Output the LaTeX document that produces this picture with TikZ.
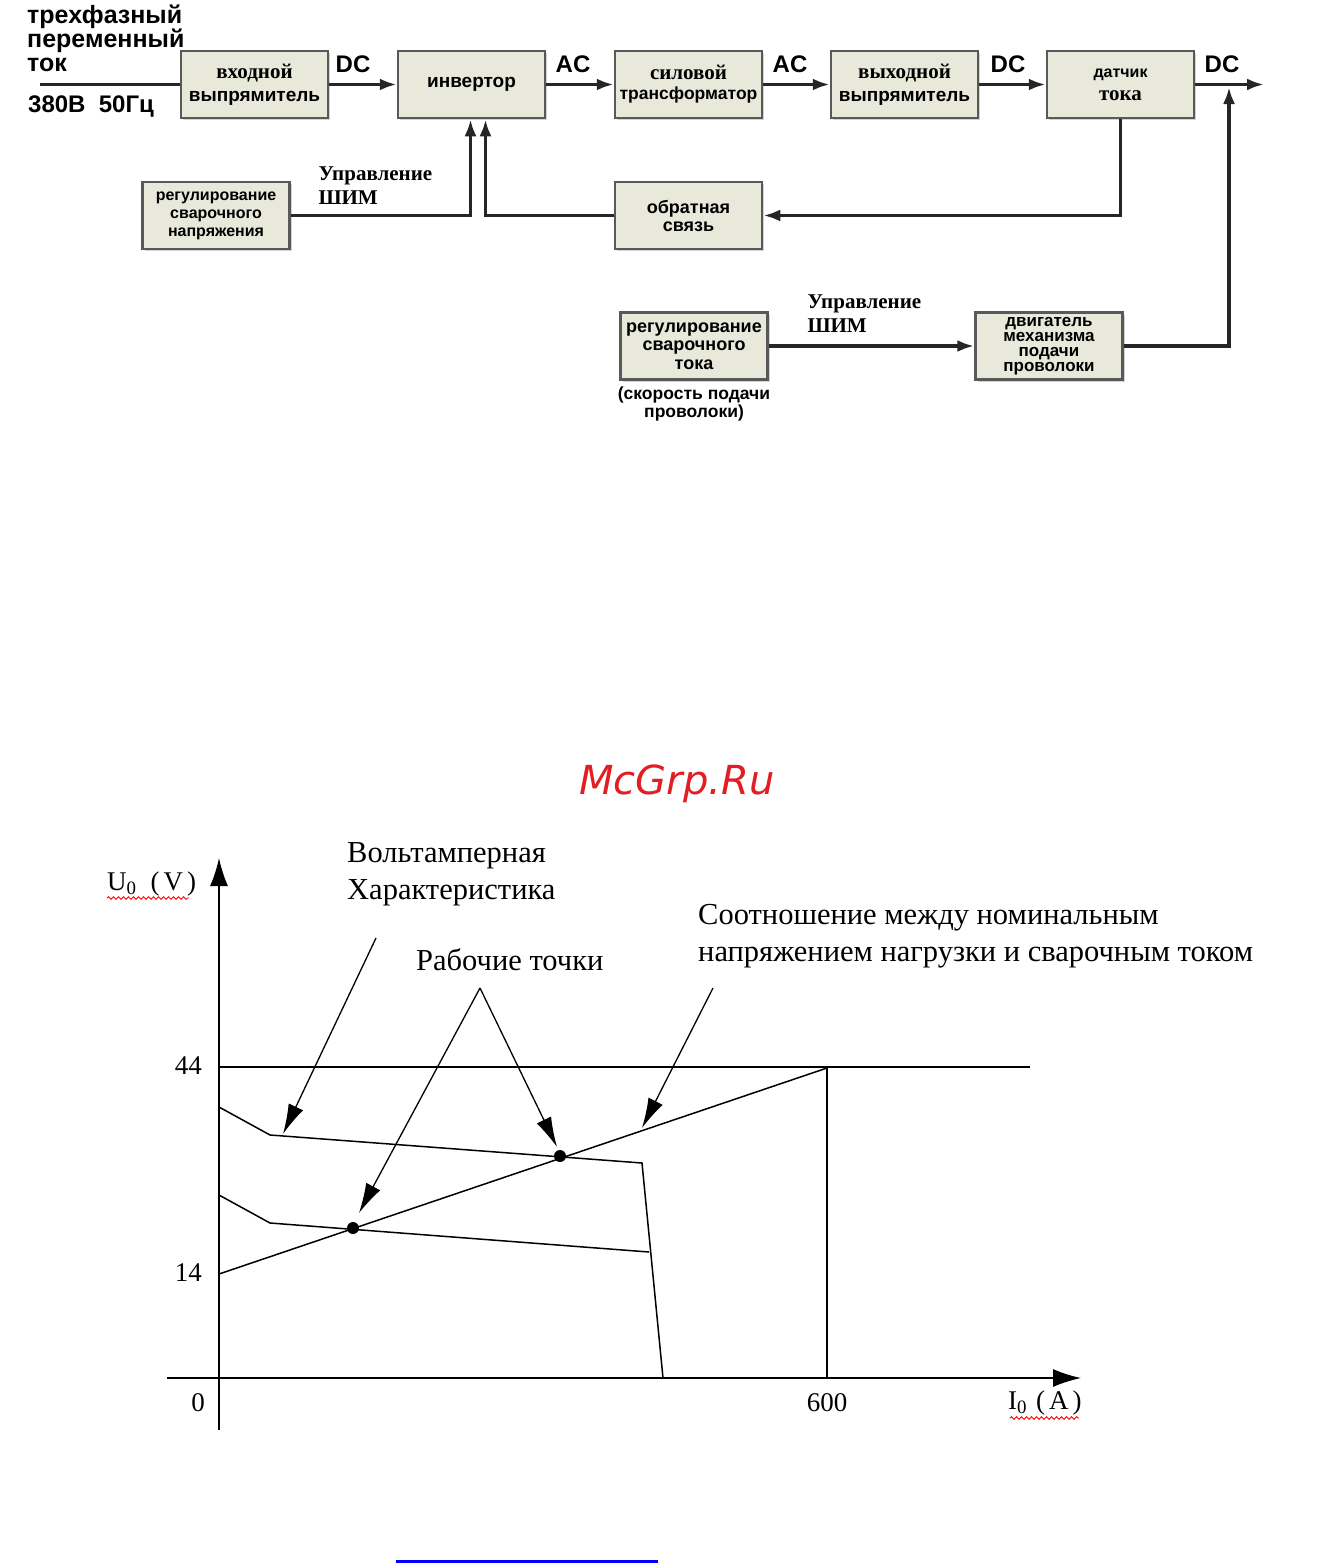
\documentclass[tikz,border=0pt]{standalone}
\usepackage{fontspec}
\setmainfont{Liberation Serif}
\newfontfamily\arialfont{Liberation Sans}
\newfontfamily\markfont{DejaVu Sans}
\usetikzlibrary{arrows.meta,shadows,decorations.pathmorphing}
\definecolor{boxfill}{RGB}{232,233,218}
\definecolor{markred}{RGB}{226,30,36}
\newcommand{\tms}[1]{{\rmfamily\fontsize{21}{23}\selectfont #1}}
\begin{document}
\begin{tikzpicture}[x=1pt, y=-1pt,
  stage/.style={draw=black!65, line width=2.5pt, fill=boxfill, minimum width=147pt, minimum height=67pt,
    inner sep=1pt, align=center, font=\arialfont\bfseries\fontsize{19}{23}\selectfont,
    drop shadow={shadow xshift=2pt, shadow yshift=-2pt, opacity=0.35}},
  sig/.style={line width=3.5pt, black!85, -{Latex[length=17pt,width=12pt]}},
  wire/.style={line width=3.5pt, black!85},
  tag/.style={font=\arialfont\bfseries\fontsize{24}{24}\selectfont},
  pwm/.style={font=\bfseries\fontsize{21}{24}\selectfont, align=left, anchor=west},
  trace/.style={line width=1.5pt},
  axis/.style={line width=1.5pt, -{Latex[length=28pt,width=18pt]}},
  pointer/.style={line width=1.3pt, -{Latex[length=30pt,width=16pt]}},
  txt/.style={font=\fontsize{30.5}{37}\selectfont, align=left, inner sep=0pt, anchor=west},
  num/.style={font=\fontsize{27}{27}\selectfont, inner sep=0pt},
  spell/.style={red, line width=0.9pt, decorate, decoration={snake, amplitude=1.3pt, segment length=5pt}}]
\useasboundingbox (0,0) rectangle (1340,1563);

\node[font=\arialfont\bfseries\fontsize{25}{24}\selectfont, align=left, anchor=west, inner sep=0pt] (phase) at (27,38) {трехфазный\\переменный\\ток};
\node[tag, anchor=west, inner sep=0pt] (mains) at (28,107) {380В\ \ 50Гц};
\coordinate (in) at (40,84.5);
\node[stage] (inrect) at (254.5,84.5) {\tms{входной}\\выпрямитель};
\node[stage] (inv) at (471.5,84.5) {инвертор};
\node[stage] (trafo) at (688.5,84.5) {\tms{силовой}\\[-3pt]{\fontsize{17.5}{20}\selectfont трансформатор}};
\node[stage] (outrect) at (904.5,84.5) {\tms{выходной}\\выпрямитель};
\node[stage] (sens) at (1120.5,84.5) {{\fontsize{16}{24}\selectfont датчик}\\\tms{тока}};
\coordinate (out) at (1264,84.5);
\node[stage, font=\arialfont\bfseries\fontsize{16}{18}\selectfont] (volt) at (216,215.5) {регулирование\\сварочного\\напряжения};
\node[stage, font=\arialfont\bfseries\fontsize{18}{18}\selectfont] (fb) at (688.5,215.5) {обратная\\связь};
\node[stage, font=\arialfont\bfseries\fontsize{18}{18.5}\selectfont] (feed) at (694,346) {регулирование\\сварочного\\тока};
\node[stage, font=\arialfont\bfseries\fontsize{17}{15}\selectfont] (motor) at (1049,346) {двигатель\\механизма\\подачи\\проволоки};
\node[font=\arialfont\bfseries\fontsize{17.5}{18}\selectfont, align=center] (speed) at (694,404) {(скорость подачи\\проволоки)};
\coordinate (tap) at (1229,87);

\node[tag] (dc1) at (353,64) {DC};
\node[tag] (ac1) at (573,64) {AC};
\node[tag] (ac2) at (790,64) {AC};
\node[tag] (dc2) at (1008,64) {DC};
\node[tag] (dc3) at (1222,64) {DC};
\node[pwm] (pwm1) at (315,186) {Управление\\ШИМ};
\node[pwm] (pwm2) at (804,314) {Управление\\ШИМ};

\draw[wire] (in) -- (inrect);
\draw[sig] (inrect) -- (inv);
\draw[sig] (inv) -- (trafo);
\draw[sig] (trafo) -- (outrect);
\draw[sig] (outrect) -- (sens);
\draw[sig] (sens) -- (out);
\draw[sig] (sens.south) |- (fb.east);
\draw[sig] (fb.west) -| ([xshift=14pt]inv.south);
\draw[sig] (volt.east) -| ([xshift=-1pt]inv.south);
\draw[sig] (feed.east) -- (motor.west);
\draw[sig] (motor.east) -| (tap);

\node[font=\markfont\itshape\fontsize{40}{40}\selectfont, text=markred] (mark) at (677,784) {McGrp.Ru};

\draw[axis] (219,1430) -- (219,858);
\draw[axis] (167,1378) -- (1081,1378);
\draw[trace] (219,1067) -- (1030,1067);
\draw[trace] (827,1067) -- (827,1378);
\draw[trace] (219,1274) -- (827,1068);
\draw[trace] (219,1107) -- (270,1135) -- (642,1163) -- (663,1378);
\draw[trace] (219,1195) -- (270,1223) -- (649,1252);
\coordinate (wphi) at (560,1156);
\coordinate (wplo) at (353,1228);
\fill (wphi) circle (6pt);
\fill (wplo) circle (6pt);

\node[txt] (vac) at (347,874) {Вольтамперная\\Характеристика};
\node[txt] (wpt) at (416,960) {Рабочие точки};
\node[txt] (rel) at (698,936) {Соотношение между номинальным\\напряжением нагрузки и сварочным током};
\coordinate (t1) at (376,938);
\coordinate (t2) at (480,988);
\coordinate (t3) at (713,988);
\draw[pointer] (t1) -- (283,1134);
\draw[pointer] (t2) -- (359,1213);
\draw[pointer] (t2) -- (557,1147);
\draw[pointer] (t3) -- (642,1128);

\node[num, anchor=east] (v44) at (202,1066) {44};
\node[num, anchor=east] (v14) at (202,1273) {14};
\node[num] (i0) at (198,1403) {0};
\node[num] (i600) at (827,1403) {600};
\node[num, anchor=west] (ulab) at (107,884) {U\textsubscript{0}\hspace{14pt}(\hspace{4pt}V\hspace{4pt})};
\node[num, anchor=west] (ilab) at (1008,1403) {I\textsubscript{0}\hspace{9pt}(\hspace{4pt}A\hspace{4pt})};
\draw[spell] (107,898) -- (189,898);
\draw[spell] (1010,1418) -- (1079,1418);

\draw[blue, line width=3pt] (396,1561) -- (658,1561);
\end{tikzpicture}
\end{document}
